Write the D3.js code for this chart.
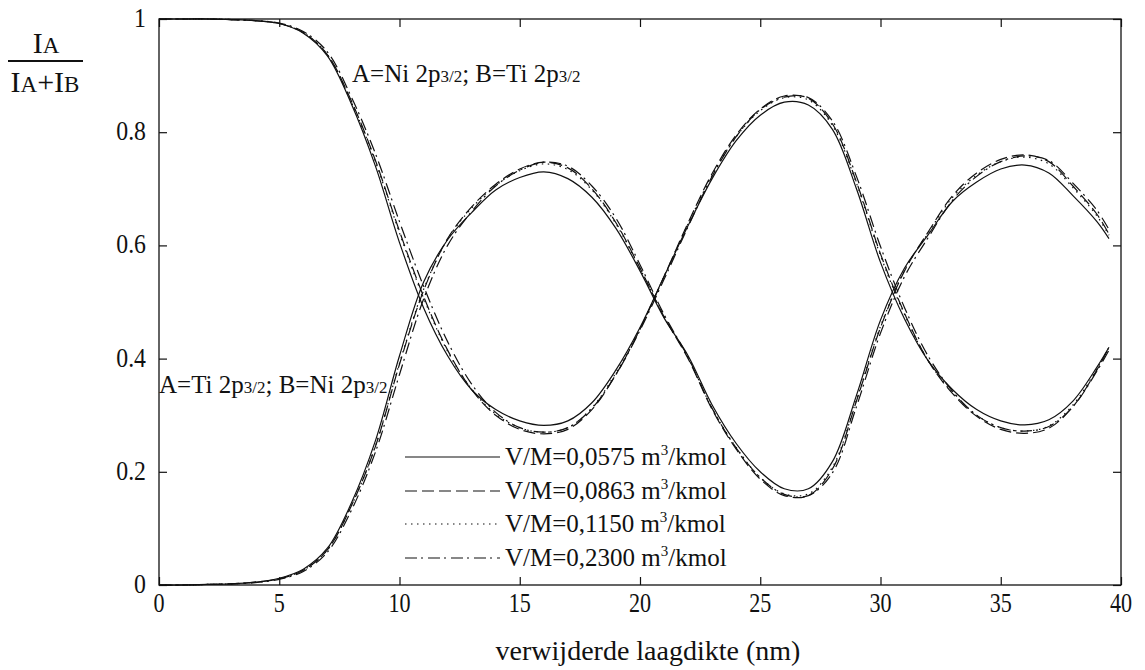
<!DOCTYPE html>
<html>
<head>
<meta charset="utf-8">
<script src="https://cdn.jsdelivr.net/npm/d3@7"></script>
<style>
  body { margin: 0; background: #fff; }
  text { font-family: "Liberation Serif", "DejaVu Serif", "Times New Roman", serif; fill: #111; }
</style>
</head>
<body>
<svg id="chart" width="1145" height="670"></svg>
<script>
// Removed layer thickness (nm) at which the intensity ratios are sampled
const thickness = [0,1,2,3,4,5,6,7,8,9,10,11,12,13,14,15,16,17,18,19,20,
  21,22,23,24,25,26,27,28,29,30,31,32,33,34,35,36,37,38,39,39.5];

// Series labels (V/M values)
const seriesLabels = ["V/M=0,0575", "V/M=0,0863", "V/M=0,1150", "V/M=0,2300"];

// A = Ni 2p3/2, B = Ti 2p3/2 : ratio I_A/(I_A+I_B)
const niVM0575 = [1.000,1.000,1.000,0.999,0.997,0.992,0.975,0.935,0.850,0.740,0.605,0.490,0.405,0.345,0.310,0.290,0.282,0.290,0.322,0.380,0.455,
  0.545,0.635,0.718,0.785,0.830,0.853,0.848,0.805,0.700,0.570,0.470,0.395,0.345,0.310,0.290,0.283,0.292,0.325,0.385,0.420];
const niVM0863 = [1.000,1.000,1.000,0.999,0.997,0.992,0.976,0.937,0.855,0.750,0.625,0.510,0.415,0.345,0.300,0.275,0.267,0.275,0.310,0.372,0.452,
  0.545,0.640,0.727,0.795,0.841,0.864,0.860,0.815,0.712,0.585,0.480,0.395,0.338,0.298,0.275,0.268,0.277,0.315,0.380,0.420];
const niVM1150 = [1.000,1.000,1.000,0.999,0.997,0.992,0.976,0.937,0.853,0.748,0.622,0.507,0.413,0.346,0.302,0.278,0.270,0.278,0.313,0.375,0.453,
  0.545,0.638,0.724,0.792,0.838,0.861,0.857,0.812,0.710,0.582,0.478,0.395,0.340,0.300,0.278,0.272,0.281,0.318,0.382,0.420];
const niVM2300 = [1.000,1.000,1.000,0.999,0.997,0.993,0.978,0.942,0.862,0.762,0.642,0.528,0.430,0.355,0.305,0.278,0.270,0.278,0.312,0.372,0.450,
  0.540,0.633,0.722,0.792,0.840,0.862,0.861,0.820,0.722,0.598,0.490,0.403,0.342,0.300,0.278,0.272,0.280,0.315,0.378,0.415];

// A = Ti 2p3/2, B = Ni 2p3/2 : ratio I_A/(I_A+I_B)
const tiVM0575 = [0.000,0.000,0.001,0.002,0.005,0.012,0.028,0.065,0.145,0.255,0.405,0.535,0.610,0.658,0.698,0.720,0.730,0.718,0.685,0.630,0.555,
  0.472,0.405,0.318,0.250,0.200,0.170,0.170,0.218,0.335,0.468,0.560,0.620,0.678,0.712,0.735,0.742,0.728,0.688,0.642,0.612];
const tiVM0863 = [0.000,0.000,0.001,0.002,0.005,0.011,0.026,0.062,0.140,0.245,0.390,0.520,0.612,0.668,0.708,0.735,0.747,0.737,0.700,0.640,0.560,
  0.474,0.400,0.310,0.240,0.187,0.158,0.158,0.205,0.325,0.455,0.555,0.625,0.688,0.728,0.752,0.760,0.748,0.705,0.655,0.620];
const tiVM1150 = [0.000,0.000,0.001,0.002,0.005,0.011,0.026,0.062,0.140,0.246,0.392,0.522,0.611,0.666,0.706,0.732,0.744,0.734,0.698,0.638,0.559,
  0.474,0.402,0.312,0.243,0.190,0.161,0.161,0.208,0.327,0.457,0.556,0.623,0.685,0.724,0.748,0.756,0.744,0.702,0.652,0.618];
const tiVM2300 = [0.000,0.000,0.001,0.002,0.004,0.010,0.024,0.058,0.132,0.235,0.372,0.505,0.600,0.660,0.705,0.733,0.747,0.740,0.705,0.648,0.566,
  0.478,0.402,0.312,0.242,0.190,0.160,0.158,0.198,0.315,0.445,0.545,0.615,0.680,0.722,0.748,0.758,0.750,0.710,0.662,0.628];

// Axis ticks
const xTickValues = [0,5,10,15,20,25,30,35,40];
const xTickLabels = ["0","5","10","15","20","25","30","35","40"];
const yTickValues = [0,0.2,0.4,0.6,0.8,1];
const yTickLabels = ["0","0.2","0.4","0.6","0.8","1"];

// Line styles per V/M series
const dashes = [null, "12,5", "1.5,4.5", "12,4,2,5"];

const svg = d3.select("#chart");
const plotLeft = 159, plotRight = 1121, plotTop = 19, plotBottom = 585;
const x = d3.scaleLinear().domain([0, 40]).range([plotLeft, plotRight]);
const y = d3.scaleLinear().domain([0, 1]).range([plotBottom, plotTop]);

// Frame
svg.append("rect")
  .attr("x", plotLeft).attr("y", plotTop)
  .attr("width", plotRight - plotLeft).attr("height", plotBottom - plotTop)
  .attr("fill", "none").attr("stroke", "#111").attr("stroke-width", 1.3);

// Inward ticks on all four sides
const tickLen = 8;
const axB = d3.axisTop(x).tickValues(xTickValues).tickSize(tickLen).tickFormat("");
const axT = d3.axisBottom(x).tickValues(xTickValues).tickSize(tickLen).tickFormat("");
const axL = d3.axisRight(y).tickValues(yTickValues).tickSize(tickLen).tickFormat("");
const axR = d3.axisLeft(y).tickValues(yTickValues).tickSize(tickLen).tickFormat("");
[[axB, `translate(0,${plotBottom})`], [axT, `translate(0,${plotTop})`],
 [axL, `translate(${plotLeft},0)`], [axR, `translate(${plotRight},0)`]].forEach(([ax, tr]) => {
  const g = svg.append("g").attr("transform", tr).call(ax);
  g.select(".domain").remove();
  g.selectAll("line").attr("stroke", "#111").attr("stroke-width", 1.2);
});

// Tick labels (narrow serif numerals)
xTickValues.forEach((v, i) => {
  svg.append("g").attr("transform", `translate(${x(v)},612)`)
    .append("text").attr("transform", "scale(0.82,1)")
    .attr("text-anchor", "middle").attr("font-size", 27).text(xTickLabels[i]);
});
yTickValues.forEach((v, i) => {
  svg.append("g").attr("transform", `translate(146,${y(v) + 8})`)
    .append("text").attr("transform", "scale(0.88,1)")
    .attr("text-anchor", "end").attr("font-size", 27).text(yTickLabels[i]);
});

// Curves
const line = d3.line()
  .x((d, i) => x(thickness[i]))
  .y(d => y(d))
  .curve(d3.curveCatmullRom.alpha(0.5));

const niSeries = [niVM0575, niVM0863, niVM1150, niVM2300];
const tiSeries = [tiVM0575, tiVM0863, tiVM1150, tiVM2300];
[niSeries, tiSeries].forEach(group => {
  group.forEach((vals, k) => {
    svg.append("path")
      .attr("d", line(vals))
      .attr("fill", "none")
      .attr("stroke", "#111")
      .attr("stroke-width", 1.2)
      .attr("stroke-dasharray", dashes[k]);
  });
});

// Curve annotations
function pLabel(xp, yp, a, b) {
  const t = svg.append("text").attr("x", xp).attr("y", yp).attr("font-size", 25);
  t.append("tspan").text(`A=${a} 2p`);
  t.append("tspan").attr("font-size", 17).text("3/2");
  t.append("tspan").text(`; B=${b} 2p`);
  t.append("tspan").attr("font-size", 17).text("3/2");
}
pLabel(352, 82, "Ni", "Ti");
pLabel(159, 393, "Ti", "Ni");

// Legend
const legendRows = [457, 491, 524, 558];
seriesLabels.forEach((lab, k) => {
  const yy = legendRows[k];
  svg.append("line")
    .attr("x1", 405).attr("x2", 500).attr("y1", yy).attr("y2", yy)
    .attr("stroke", "#111").attr("stroke-width", 1.2)
    .attr("stroke-dasharray", dashes[k]);
  const t = svg.append("text").attr("x", 505).attr("y", yy + 8).attr("font-size", 25);
  t.append("tspan").text(`${lab} m`);
  t.append("tspan").attr("font-size", 15).attr("dy", -10).text("3");
  t.append("tspan").attr("dy", 10).text("/kmol");
});

// Y-axis title: I_A / (I_A + I_B)
const yt = svg.append("g");
const num = yt.append("text").attr("x", 46).attr("y", 53).attr("text-anchor", "middle");
num.append("tspan").attr("font-size", 30).text("I");
num.append("tspan").attr("font-size", 23).text("A");
yt.append("line").attr("x1", 8).attr("x2", 83).attr("y1", 61).attr("y2", 61)
  .attr("stroke", "#111").attr("stroke-width", 1.8);
const den = yt.append("text").attr("x", 45).attr("y", 92).attr("text-anchor", "middle");
den.append("tspan").attr("font-size", 30).text("I");
den.append("tspan").attr("font-size", 23).text("A");
den.append("tspan").attr("font-size", 30).text("+I");
den.append("tspan").attr("font-size", 23).text("B");

// X-axis title
svg.append("text").attr("x", 648).attr("y", 660).attr("text-anchor", "middle")
  .attr("font-size", 28).text("verwijderde laagdikte (nm)");
</script>
</body>
</html>
